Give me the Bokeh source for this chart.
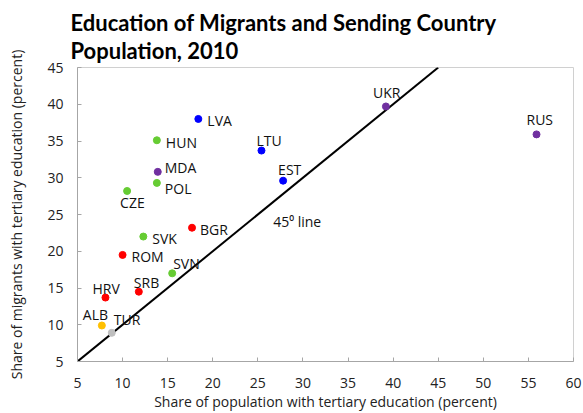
from bokeh.plotting import figure
from bokeh.models import Range1d, ColumnDataSource, FixedTicker, Label
from bokeh.embed import file_html
from bokeh.resources import INLINE

countries = ["LVA", "HUN", "MDA", "POL", "CZE", "LTU", "EST", "BGR", "SVK",
             "ROM", "SVN", "SRB", "HRV", "ALB", "TUR", "UKR", "RUS"]
pop_tertiary = [18.4, 13.8, 13.9, 13.8, 10.5, 25.4, 27.8, 17.7, 12.3,
                10.0, 15.5, 11.8, 8.1, 7.7, 8.8, 39.2, 55.9]
mig_tertiary = [38.0, 35.1, 30.8, 29.3, 28.2, 33.7, 29.6, 23.2, 22.0,
                19.5, 17.0, 14.5, 13.7, 9.9, 8.9, 39.7, 35.9]
groups = ["Baltic", "CE", "CIS", "CE", "CE", "Baltic", "Baltic", "SEE", "CE",
          "SEE", "CE", "SEE", "SEE", "ALB", "TUR", "CIS", "CIS"]
x_ticks = [5, 10, 15, 20, 25, 30, 35, 40, 45, 50, 55, 60]
y_ticks = [5, 10, 15, 20, 25, 30, 35, 40, 45]
line_x = [5, 45]
line_y = [5, 45]

# styling
group_colors = {"Baltic": "#0000FF", "CE": "#66CC33", "CIS": "#7030A0",
                "SEE": "#FF0000", "ALB": "#FFC000", "TUR": "#BFBFBF"}
# label offsets in screen pixels (dx right, dy up)
label_dx = [9, 9, 7, 8, -7, -5, -5, 8, 9, 9, 1, -5, -13, -19, 2, -13, -10]
label_dy = [-2, -2, 4, -6, -12, 10, 11, -2, -2, -2, 10, 9, 9, 11, 13, 14, 15]

FONT = "Open Sans"

p = figure(width=583, height=413, output_backend="svg", toolbar_location=None,
           x_range=Range1d(5, 60), y_range=Range1d(5, 45),
           min_border_left=77, min_border_right=10, min_border_top=67,
           min_border_bottom=51)

p.title.text = "Education of Migrants and Sending Country\nPopulation, 2010"
p.title.text_font = "Lato"
p.title.text_font_size = "22px"
p.title.text_font_style = "bold"
p.title.text_color = "black"
p.title.text_line_height = 1.05
p.title.align = "left"
p.title.offset = -7
p.title.standoff = 7

p.xgrid.visible = False
p.ygrid.visible = False
p.outline_line_color = "#D0D0D0"

for ax in (p.xaxis[0], p.yaxis[0]):
    ax.axis_line_color = "#A6A6A6"
    ax.major_tick_line_color = "#A6A6A6"
    ax.major_tick_in = 4
    ax.major_tick_out = 0
    ax.minor_tick_line_color = None
    ax.major_label_text_font = FONT
    ax.major_label_text_font_size = "14px"
    ax.major_label_text_color = "#222222"
    ax.axis_label_text_font = FONT
    ax.axis_label_text_font_size = "14px"
    ax.axis_label_text_font_style = "normal"
    ax.axis_label_text_color = "#222222"

p.xaxis.ticker = FixedTicker(ticks=x_ticks)
p.yaxis.ticker = FixedTicker(ticks=y_ticks)
p.xaxis.axis_label = "Share of population with tertiary education (percent)"
p.yaxis.axis_label = "Share of migrants with tertiary education (percent)"
p.xaxis.major_label_standoff = 16
p.yaxis.major_label_standoff = 14
p.xaxis.axis_label_standoff = 1
p.yaxis.axis_label_standoff = 18

p.line(line_x, line_y, line_color="black", line_width=2)

src = ColumnDataSource(dict(x=pop_tertiary, y=mig_tertiary,
                            color=[group_colors[g] for g in groups]))
p.scatter("x", "y", source=src, size=7, fill_color="color", line_color="color")

for i in range(len(countries)):
    p.add_layout(Label(x=pop_tertiary[i], y=mig_tertiary[i], text=countries[i],
                       x_offset=label_dx[i], y_offset=label_dy[i],
                       text_font=FONT, text_font_size="14px", text_color="#111111",
                       text_baseline="middle", text_align="left"))

p.add_layout(Label(x=26.7, y=24.1, text="45\u2070 line", text_font=FONT,
                   text_font_size="14px", text_color="#111111",
                   text_baseline="middle", text_align="left"))

open("out.html", "w").write(file_html(p, INLINE))
